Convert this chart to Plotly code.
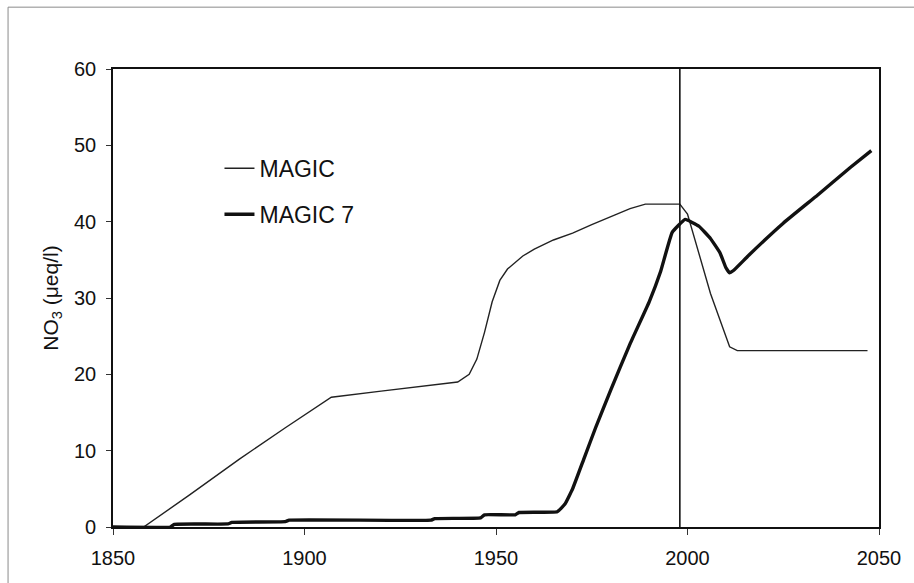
import plotly.graph_objects as go

# --- data ---
magic_years = [1850, 1858, 1870, 1883, 1895, 1907, 1920, 1930, 1940, 1943, 1945, 1947,
               1949, 1951, 1953, 1957, 1960, 1965, 1970, 1975, 1980, 1985, 1989, 1998,
               2000, 2006, 2011, 2013, 2047]
magic_vals = [0, 0, 4.2, 8.9, 13.0, 17.0, 17.8, 18.4, 19.0, 20.0, 22.0, 25.5,
              29.5, 32.3, 33.8, 35.5, 36.4, 37.6, 38.5, 39.6, 40.7, 41.7, 42.3, 42.3,
              41.0, 30.6, 23.6, 23.1, 23.1]

magic7_years = [1850, 1865, 1866, 1880, 1881, 1895, 1896, 1933, 1934, 1946, 1947, 1955,
                1956, 1966, 1968, 1970, 1973, 1976, 1980, 1985, 1990, 1993, 1996, 1999.4,
                2003, 2006, 2008.5, 2010, 2011, 2012, 2016, 2025, 2034, 2042.5, 2048]
magic7_vals = [0, 0, 0.35, 0.4, 0.6, 0.7, 0.9, 0.9, 1.1, 1.2, 1.6, 1.6,
               1.9, 2.0, 3.0, 5.0, 9.0, 13.0, 18.0, 24.0, 29.5, 33.5, 38.6, 40.3,
               39.4, 37.8, 35.9, 34.0, 33.3, 33.6, 35.6, 39.8, 43.5, 47.1, 49.3]

x_ticks = [1850, 1900, 1950, 2000, 2050]
y_ticks = [0, 10, 20, 30, 40, 50, 60]
marker_year = 1998

FONT = "Liberation Sans, Arial, sans-serif"

fig = go.Figure()
fig.add_trace(go.Scatter(x=magic_years, y=magic_vals, mode="lines", name="MAGIC",
                         legendgroup="a",
                         line=dict(color="#222222", width=1.4)))
fig.add_trace(go.Scatter(x=magic7_years, y=magic7_vals, mode="lines", name="MAGIC 7",
                         legendgroup="b", line_shape="spline",
                         line=dict(color="#111111", width=3.4, smoothing=0.3)))

# vertical reference line at the present
fig.add_shape(type="line", xref="x", yref="y", x0=marker_year, x1=marker_year,
              y0=0, y1=60, line=dict(color="#111111", width=1.6))

# outer frame (scanned page border)
fig.add_shape(type="line", xref="paper", yref="paper", x0=-0.137, x1=1.06,
              y0=1.135, y1=1.135, line=dict(color="#8a8a8a", width=1))
fig.add_shape(type="line", xref="paper", yref="paper", x0=-0.137, x1=-0.137,
              y0=-0.2, y1=1.135, line=dict(color="#8a8a8a", width=1))

fig.update_layout(
    width=914, height=583,
    margin=dict(l=113, r=35, t=69, b=56),
    paper_bgcolor="white", plot_bgcolor="white",
    font=dict(family=FONT, color="#111111", size=20),
    showlegend=True,
    legend=dict(x=0.139, y=0.83, xanchor="left", yanchor="top",
                bgcolor="rgba(0,0,0,0)", font=dict(size=23, family=FONT),
                traceorder="grouped", tracegroupgap=13),
    xaxis=dict(range=[1850, 2050], tickmode="array", tickvals=x_ticks,
               showgrid=False, zeroline=False, showline=True, linecolor="#111111",
               linewidth=1.6, mirror=True, ticks="outside", ticklen=6,
               tickcolor="#333333", tickfont=dict(size=20), ticklabelstandoff=6),
    yaxis=dict(range=[0, 60], tickmode="array", tickvals=y_ticks,
               showgrid=False, zeroline=False, showline=True, linecolor="#111111",
               linewidth=1.6, mirror=True, ticks="outside", ticklen=5,
               tickcolor="#333333", tickfont=dict(size=20), ticklabelstandoff=6,
               title=dict(text="NO<sub>3</sub> (μeq/l)", font=dict(size=21),
                          standoff=10)),
)

fig.write_html("out.html")
